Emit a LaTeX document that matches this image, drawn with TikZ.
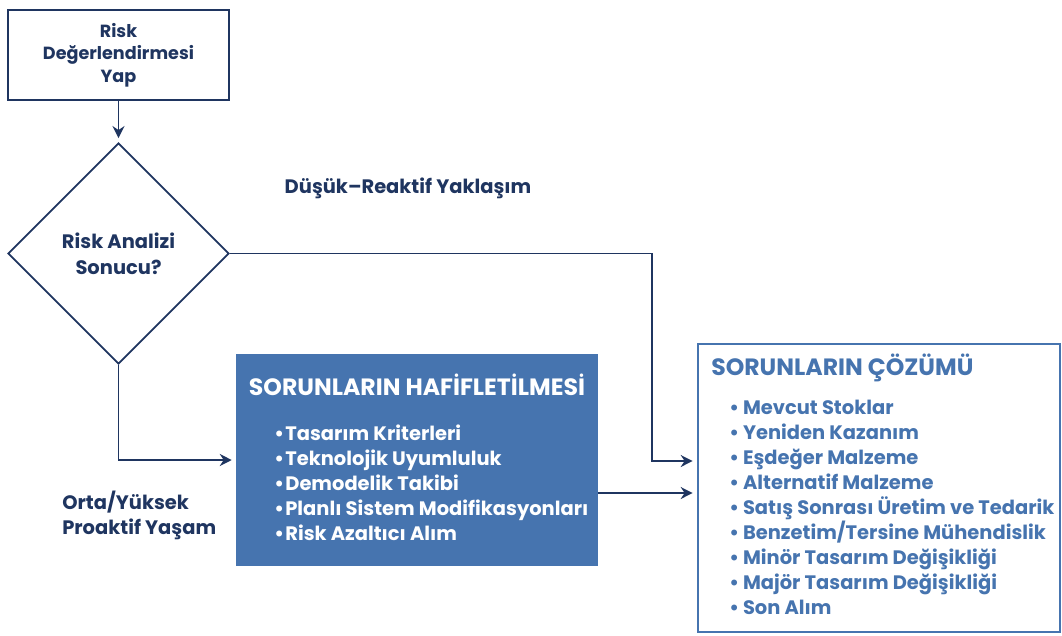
\documentclass[tikz,border=0pt]{standalone}
\usepackage{fontspec}
\setmainfont{Poppins}
\usetikzlibrary{shapes.geometric,arrows.meta}

\definecolor{lacivert}{HTML}{1F3560}
\definecolor{mavi}{HTML}{4674AF}

\tikzset{
  yazi/.style={text=lacivert, font=\bfseries\fontsize{14.6}{19.5}\selectfont},
  kutu/.style={yazi, draw=lacivert, line width=1.4pt, align=center,
    font=\bfseries\fontsize{13.2}{16.9}\selectfont,
    minimum width=165.75pt, minimum height=67.5pt},
  karar/.style={yazi, diamond, draw=lacivert, line width=1.4pt, align=center,
    inner sep=0pt, minimum width=165.75pt, minimum height=165.75pt},
  ok/.style={draw=lacivert, line width=1.4pt, shorten >=3pt,
    -{Stealth[length=9pt,width=9pt,inset=3pt]}},
  madde/.style={font=\bfseries\fontsize{14.6}{19}\selectfont, anchor=base west, inner sep=0pt},
  baslik/.style={font=\bfseries\fontsize{17.7}{21}\selectfont, inner sep=0pt}
}

\begin{document}
\begin{tikzpicture}[x=0.75pt,y=-0.75pt]
\useasboundingbox (0,0) rectangle (1062,635);

\node[kutu] (risk) at (118.5,55) {Risk\\Değerlendirmesi\\Yap};
\node[karar] (karar) at (118.5,253.5) {Risk Analizi\\Sonucu?};

\node[fill=mavi, minimum width=271.5pt, minimum height=159pt] (hafif) at (417,460) {};
\node[draw=mavi, line width=1.5pt, minimum width=272pt, minimum height=216.5pt] (cozum) at (879,488) {};

\node[baslik, text=white] (hbaslik) at (417,385) {SORUNLARIN HAFİFLETİLMESİ};
\node[baslik, text=mavi, anchor=west] (cbaslik) at (711,368) {SORUNLARIN ÇÖZÜMÜ};

% hafifletme maddeleri
\foreach \t [count=\i] in {Tasarım Kriterleri, Teknolojik Uyumluluk, Demodelik Takibi,
    Planlı Sistem Modifikasyonları, Risk Azaltıcı Alım}
  \node[madde, text=white] (h\i) at (274,440.5+25*\i-25) {•\hspace{1pt}\t};

% cozum maddeleri
\foreach \t [count=\i] in {Mevcut Stoklar, Yeniden Kazanım, Eşdeğer Malzeme, Alternatif Malzeme,
    Satış Sonrası Üretim ve Tedarik, Benzetim/Tersine Mühendislik, Minör Tasarım Değişikliği,
    Majör Tasarım Değişikliği, Son Alım}
  \node[madde, text=mavi] (c\i) at (729,414+25.1*\i-25.1) {•\hspace{3pt}\t};

\node[yazi] (dusuk) at (408,188) {Düşük–Reaktif Yaklaşım};
\node[yazi, align=left, anchor=west, inner sep=0pt,
  font=\bfseries\fontsize{14.6}{18.75}\selectfont] (orta) at (62,515) {Orta/Yüksek\\Proaktif Yaşam};

\coordinate (d1) at (652,461);
\coordinate (d2) at (620,493);

\draw[ok] (risk) -- (karar);
\draw[ok] (karar.east) -| (d1) -- (d1 -| cozum.west);
\draw[ok] (karar.south) |- (hafif.west);
\draw[ok] (d2 -| hafif.east) -- (d2 -| cozum.west);
\end{tikzpicture}
\end{document}
